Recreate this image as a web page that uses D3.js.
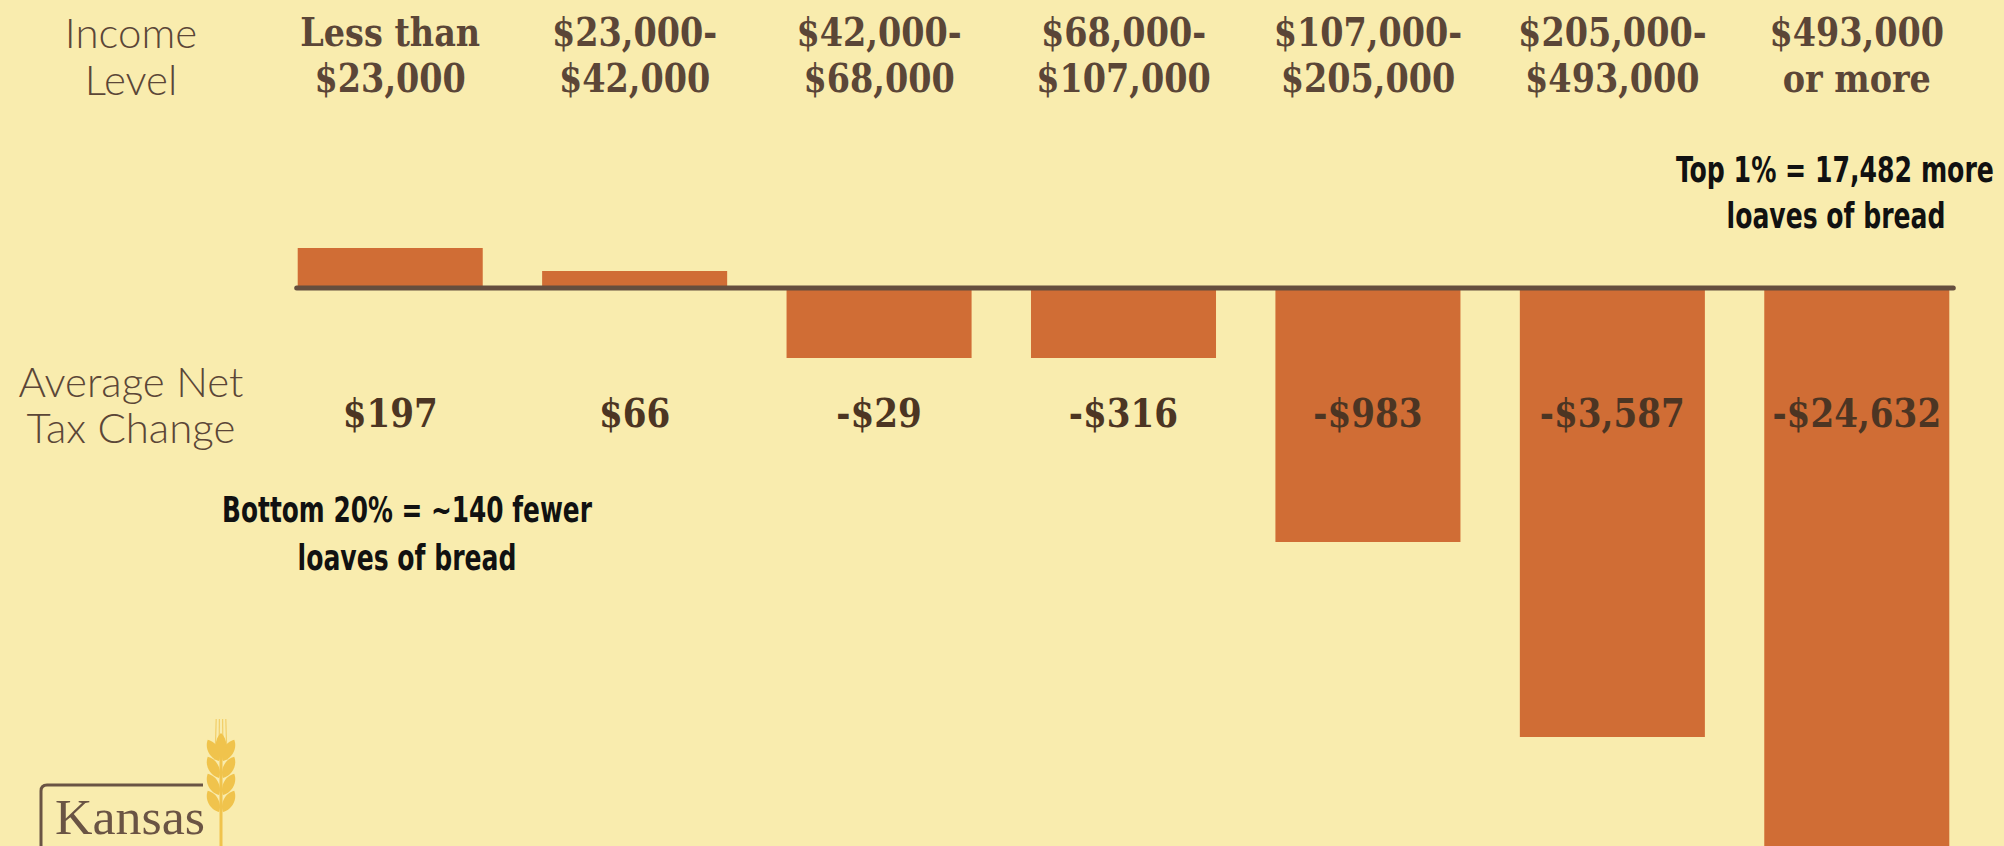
<!DOCTYPE html>
<html>
<head>
<meta charset="utf-8">
<script src="https://cdn.jsdelivr.net/npm/d3@7"></script>
<style>
  html, body { margin: 0; padding: 0; background: #f9ecae; overflow: hidden; }
</style>
</head>
<body>
<div id="chart"></div>
<script>
// income brackets, two lines each
const incomeLine1 = ['Less than', '$23,000-', '$42,000-', '$68,000-', '$107,000-', '$205,000-', '$493,000']
const incomeLine2 = ['$23,000', '$42,000', '$68,000', '$107,000', '$205,000', '$493,000', 'or more']
// average net tax change per bracket
const netTaxChange = [197, 66, -29, -316, -983, -3587, -24632]

const width = 2004, height = 846
const barColor = '#d06d35'
const brown = '#5b4637'

const svg = d3.select('#chart').append('svg')
  .attr('width', width)
  .attr('height', height)

svg.append('rect').attr('width', width).attr('height', height).attr('fill', '#f9ecae')

const x = d3.scaleBand()
  .domain(d3.range(netTaxChange.length))
  .range([268, 1979])
  .paddingInner(0.243)
  .paddingOuter(0.1215)
const cx = i => x(i) + x.bandwidth() / 2

// the infographic does not draw bars to a linear scale, so use a piecewise one
const yDomain = [-24632, -3587, -983, -316, -29, 0, 66, 197]
const y = d3.scaleLinear()
  .domain(yDomain)
  .range([910, 737, 542, 358, 358, 289, 271, 248])

svg.append('g').selectAll('rect')
  .data(netTaxChange)
  .join('rect')
    .attr('x', (d, i) => x(i))
    .attr('width', x.bandwidth())
    .attr('y', d => Math.min(y(d), y(0)))
    .attr('height', d => Math.abs(y(d) - y(0)))
    .attr('fill', barColor)

// zero line
svg.append('line')
  .attr('x1', x(0) - 1)
  .attr('x2', x(netTaxChange.length - 1) + x.bandwidth() + 4)
  .attr('y1', y(0) - 1)
  .attr('y2', y(0) - 1)
  .attr('stroke', '#654e3e')
  .attr('stroke-width', 5)
  .attr('stroke-linecap', 'round')

// bracket labels
const slab = '"DejaVu Serif Condensed", "DejaVu Serif", serif'
const heads = svg.append('g')
  .attr('font-family', slab)
  .attr('font-weight', 'bold')
  .attr('font-size', 40)
  .attr('fill', brown)
  .attr('text-anchor', 'middle')

heads.selectAll('text.l1')
  .data(incomeLine1)
  .join('text')
    .attr('class', 'l1')
    .attr('transform', (d, i) => `translate(${cx(i)},46) scale(0.93,1)`)
    .text(d => d)

heads.selectAll('text.l2')
  .data(incomeLine2)
  .join('text')
    .attr('class', 'l2')
    .attr('transform', (d, i) => `translate(${cx(i)},92) scale(0.93,1)`)
    .text(d => d)

// value labels
const fmt = d => (d < 0 ? '-' : '') + '$' + d3.format(',')(Math.abs(d))
svg.append('g')
  .attr('font-family', slab)
  .attr('font-weight', 'bold')
  .attr('font-size', 40)
  .attr('fill', '#4c3523')
  .attr('text-anchor', 'middle')
  .selectAll('text')
  .data(netTaxChange)
  .join('text')
    .attr('transform', (d, i) => `translate(${cx(i)},427) scale(0.95,1)`)
    .text(fmt)

// row titles
const light = svg.append('g')
  .attr('font-family', 'Lato, "Open Sans", sans-serif')
  .attr('font-weight', 300)
  .attr('font-size', 42)
  .attr('fill', '#5b4637')
  .attr('text-anchor', 'middle')

light.append('text').attr('x', 131).attr('y', 48).text('Income')
light.append('text').attr('x', 131).attr('y', 95).text('Level')
light.append('text').attr('x', 131).attr('y', 397).text('Average Net')
light.append('text').attr('x', 131).attr('y', 443).text('Tax Change')

// annotations, squeezed horizontally to the condensed widths of the original
const note = svg.append('g')
  .attr('font-family', '"Liberation Sans Narrow", "DejaVu Sans Condensed", sans-serif')
  .attr('font-weight', 'bold')
  .attr('font-size', 36)
  .attr('fill', '#111')
  .attr('text-anchor', 'middle')

const notes = [
  { text: 'Top 1% = 17,482 more', x: 1835, y: 182, w: 318 },
  { text: 'loaves of bread', x: 1836, y: 228, w: 219 },
  { text: 'Bottom 20% = ~140 fewer', x: 407, y: 522, w: 370 },
  { text: 'loaves of bread', x: 407, y: 570, w: 219 }
]
note.selectAll('text')
  .data(notes)
  .join('text')
    .text(d => d.text)
    .attr('transform', function (d) {
      const sx = d.w / this.getComputedTextLength()
      return `translate(${d.x},${d.y}) scale(${sx},1)`
    })

// Kansas logo
const logo = svg.append('g')
logo.append('path')
  .attr('d', 'M41,846 V791 Q41,785 47,785 H203')
  .attr('fill', 'none')
  .attr('stroke', '#6a5444')
  .attr('stroke-width', 3)
logo.append('text')
  .attr('x', 55)
  .attr('y', 834)
  .attr('font-family', '"Liberation Serif", "DejaVu Serif", serif')
  .attr('font-size', 50)
  .attr('fill', '#6a5444')
  .attr('textLength', 150)
  .attr('lengthAdjust', 'spacingAndGlyphs')
  .text('Kansas')

// wheat stalk
const gold = '#f0c34c'
const wheat = logo.append('g')
wheat.append('line').attr('x1', 221).attr('x2', 221).attr('y1', 740).attr('y2', 846)
  .attr('stroke', gold).attr('stroke-width', 3)
// awns
;[-6, -2, 2, 6].forEach(dx => {
  wheat.append('line').attr('x1', 221 + dx).attr('x2', 221 + dx * 0.8).attr('y1', 760).attr('y2', 719)
    .attr('stroke', gold).attr('stroke-width', 1.2).attr('opacity', 0.7)
})
const grain = 'M0,0 C-7,-6 -7,-18 0,-24 C7,-18 7,-6 0,0 Z'
d3.range(4).forEach(k => {
  const gy = 812 - k * 17
  wheat.append('path').attr('d', grain).attr('fill', gold)
    .attr('transform', `translate(219,${gy}) rotate(-28)`)
  wheat.append('path').attr('d', grain).attr('fill', gold)
    .attr('transform', `translate(223,${gy}) rotate(28)`)
})
wheat.append('path').attr('d', grain).attr('fill', gold)
  .attr('transform', 'translate(221,757)')
</script>
</body>
</html>
